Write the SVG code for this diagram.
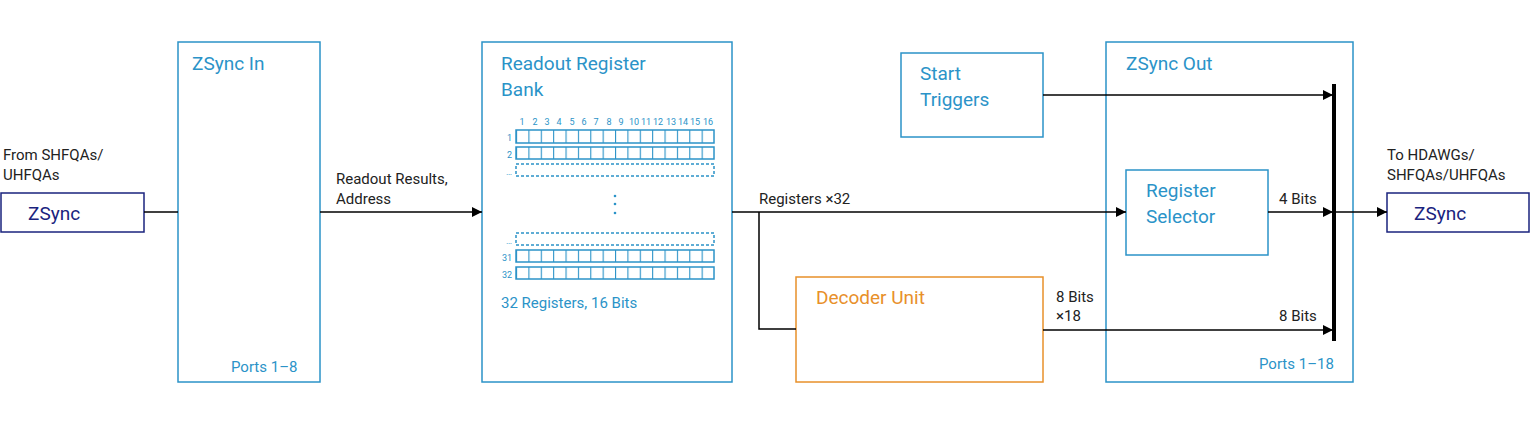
<svg xmlns="http://www.w3.org/2000/svg" width="1530" height="426" viewBox="0 0 1530 426">
<defs>
<style>
.b{fill:#fff;stroke:#2b93c8;stroke-width:1.5}
.t{font-family:Roboto,"Liberation Sans",sans-serif;fill:#2b93c8;font-size:19px}
.s{font-family:Roboto,"Liberation Sans",sans-serif;fill:#2b93c8;font-size:15px}
.k{font-family:Roboto,"Liberation Sans",sans-serif;fill:#222;font-size:15px}
.n{font-family:Roboto,"Liberation Sans",sans-serif;fill:#2b93c8;font-size:9px}
.c{fill:none;stroke:#2b93c8;stroke-width:1.5}
.d{fill:none;stroke:#2b93c8;stroke-width:1.5;stroke-dasharray:3 2}
.l{fill:none;stroke:#000;stroke-width:1.5}
</style>
<marker id="a" markerWidth="10" markerHeight="10" refX="10" refY="5" orient="auto" markerUnits="userSpaceOnUse"><path d="M0,0L10,5L0,10z" fill="#000"/></marker>
<pattern id="cells" x="516" y="0" width="12.375" height="426" patternUnits="userSpaceOnUse"><line x1="0.5" y1="0" x2="0.5" y2="426" stroke="#2b93c8" stroke-width="1.2"/></pattern>
</defs>
<g id="zsync-in-port"><rect x="1" y="193" width="143" height="39" fill="#fff" stroke="#1a237e" stroke-width="1.5"/><text x="28" y="220" font-family="Roboto,'Liberation Sans',sans-serif" font-size="19" fill="#1a237e">ZSync</text></g>
<text class="k" x="3" y="160">From SHFQAs/</text><text class="k" x="3" y="180">UHFQAs</text>
<g id="zsync-in"><rect class="b" x="178" y="42" width="142" height="340"/><text class="t" x="192" y="70">ZSync In</text><text class="s" x="231" y="372">Ports 1–8</text></g>
<g id="register-bank"><rect class="b" x="482" y="42" width="250" height="340"/><text class="t" x="501" y="70">Readout Register</text><text class="t" x="501" y="96">Bank</text>
<g class="n" text-anchor="middle"><text x="522" y="125">1</text><text x="535" y="125">2</text><text x="547" y="125">3</text><text x="559" y="125">4</text><text x="572" y="125">5</text><text x="584" y="125">6</text><text x="596" y="125">7</text><text x="609" y="125">8</text><text x="621" y="125">9</text><text x="634" y="125">10</text><text x="646" y="125">11</text><text x="658" y="125">12</text><text x="671" y="125">13</text><text x="683" y="125">14</text><text x="695" y="125">15</text><text x="708" y="125">16</text></g>
<g class="n" text-anchor="end"><text x="512" y="141">1</text><text x="512" y="158">2</text><text x="512" y="175">…</text><text x="512" y="244">…</text><text x="512" y="261">31</text><text x="512" y="278">32</text></g>
<rect x="516" y="130" width="198" height="13" fill="url(#cells)"/><rect class="c" x="516" y="130" width="198" height="13"/>
<rect x="516" y="147" width="198" height="12" fill="url(#cells)"/><rect class="c" x="516" y="147" width="198" height="12"/>
<rect class="d" x="516" y="164" width="198" height="12"/>
<rect class="d" x="516" y="233" width="198" height="12"/>
<rect x="516" y="250" width="198" height="12" fill="url(#cells)"/><rect class="c" x="516" y="250" width="198" height="12"/>
<rect x="516" y="267" width="198" height="12" fill="url(#cells)"/><rect class="c" x="516" y="267" width="198" height="12"/>
<circle cx="615" cy="196" r="1.3" fill="#2b93c8"/><circle cx="615" cy="204" r="1.3" fill="#2b93c8"/><circle cx="615" cy="213" r="1.3" fill="#2b93c8"/>
<text class="s" x="501" y="308">32 Registers, 16 Bits</text></g>
<g id="start-triggers"><rect class="b" x="901" y="53" width="142" height="84"/><text class="t" x="920" y="80">Start</text><text class="t" x="920" y="106">Triggers</text></g>
<g id="zsync-out"><rect class="b" x="1106" y="42" width="247" height="340"/><text class="t" x="1126" y="70">ZSync Out</text><text class="s" x="1259" y="369">Ports 1–18</text></g>
<g id="register-selector"><rect class="b" x="1126" y="170" width="142" height="85"/><text class="t" x="1146" y="197">Register</text><text class="t" x="1146" y="223">Selector</text></g>
<g id="decoder-unit"><rect x="796" y="277" width="247" height="105" fill="#fff" stroke="#e8902a" stroke-width="1.5"/><text x="816" y="304" font-family="Roboto,'Liberation Sans',sans-serif" font-size="19" fill="#e8902a">Decoder Unit</text></g>
<g id="zsync-out-port"><rect x="1387" y="193" width="142" height="39" fill="#fff" stroke="#1a237e" stroke-width="1.5"/><text x="1414" y="220" font-family="Roboto,'Liberation Sans',sans-serif" font-size="19" fill="#1a237e">ZSync</text></g>
<text class="k" x="1387" y="160">To HDAWGs/</text><text class="k" x="1387" y="180">SHFQAs/UHFQAs</text>
<g id="connectors">
<line class="l" x1="144" y1="212" x2="178" y2="212"/>
<line class="l" x1="320" y1="212" x2="482" y2="212" marker-end="url(#a)"/>
<line class="l" x1="732" y1="212" x2="1126" y2="212" marker-end="url(#a)"/>
<polyline class="l" points="759,212 759,329 796,329"/>
<line class="l" x1="1043" y1="330" x2="1333" y2="330" marker-end="url(#a)"/>
<line class="l" x1="1043" y1="95" x2="1333" y2="95" marker-end="url(#a)"/>
<line class="l" x1="1268" y1="212" x2="1333" y2="212" marker-end="url(#a)"/>
<line x1="1334" y1="84" x2="1334" y2="341" stroke="#000" stroke-width="4"/>
<line class="l" x1="1336" y1="212" x2="1387" y2="212" marker-end="url(#a)"/>
<text class="k" x="336" y="184">Readout Results,</text><text class="k" x="336" y="204">Address</text>
<text class="k" x="759" y="204">Registers ×32</text>
<text class="k" x="1279" y="204">4 Bits</text>
<text class="k" x="1056" y="302">8 Bits</text><text class="k" x="1056" y="321">×18</text>
<text class="k" x="1279" y="321">8 Bits</text>
</g>
</svg>
